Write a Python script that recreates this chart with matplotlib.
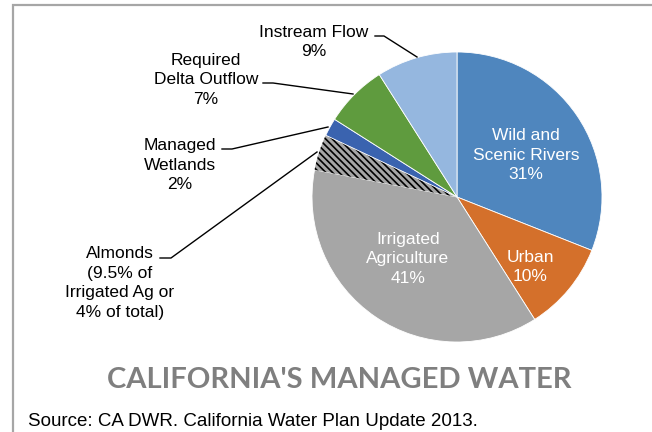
import matplotlib.pyplot as plt

W, H = 652, 432

# slices, clockwise from 12 o'clock
slice_names = ["Wild and Scenic Rivers", "Urban", "Irrigated Agriculture", "Almonds",
               "Managed Wetlands", "Required Delta Outflow", "Instream Flow"]
irrigated_total = 41
almonds_share = 4
slice_values = [31, 10, irrigated_total - almonds_share, almonds_share, 2, 7, 9]
slice_colors = ["#4F86BE", "#D4702B", "#A6A6A6", "#A6A6A6", "#3A63AF", "#5F9B3E", "#95B7DF"]

inside_labels = ["Wild and\nScenic Rivers\n31%", "Urban\n10%", "Irrigated\nAgriculture\n41%"]
outside_labels = ["Instream Flow\n9%", "Required\nDelta Outflow\n7%", "Managed\nWetlands\n2%",
                  "Almonds\n(9.5% of\nIrrigated Ag or\n4% of total)"]

title = "CALIFORNIA'S MANAGED WATER"
source = "Source: CA DWR. California Water Plan Update 2013."

plt.rcParams["font.family"] = ["Liberation Sans", "DejaVu Sans"]
plt.rcParams["hatch.linewidth"] = 1.2


def py(y):
    # picture rows go down, axes go up
    return H - y


fig = plt.figure(figsize=(W / 100, H / 100), dpi=100)
ax = fig.add_axes([0, 0, 1, 1])

wedges, _ = ax.pie(slice_values, colors=slice_colors, startangle=90, counterclock=False,
                   center=(457, py(197)), radius=145,
                   wedgeprops=dict(edgecolor="white", linewidth=0.6))
wedges[3].set_hatch("\\\\\\\\\\")
wedges[3].set_edgecolor("black")
wedges[3].set_linewidth(0)

ax.set_xlim(0, W)
ax.set_ylim(0, H)
ax.set_aspect("equal")
ax.axis("off")

# chart frame
ax.plot([12.5, 12.5, W + 5], [py(H + 5), py(5), py(5)], color="#A6A6A6", lw=1.6,
        solid_joinstyle="miter")

fs = 12.5
ls = 1.37
# labels inside the pie
ax.text(526, py(155), inside_labels[0], color="white", fontsize=fs, linespacing=ls,
        ha="center", va="center")
ax.text(530, py(267), inside_labels[1], color="white", fontsize=fs, linespacing=ls,
        ha="center", va="center")
ax.text(408, py(259), inside_labels[2], color="white", fontsize=fs, linespacing=ls,
        ha="center", va="center")

# labels outside with leader lines
ax.text(314, py(42), outside_labels[0], fontsize=fs, linespacing=ls, ha="center", va="center")
ax.plot([375, 384, 417], [py(36), py(36), py(57)], color="black", lw=1)

ax.text(206, py(80), outside_labels[1], fontsize=fs, linespacing=ls, ha="center", va="center")
ax.plot([263, 273, 353], [py(83), py(83), py(94)], color="black", lw=1)

ax.text(180, py(165), outside_labels[2], fontsize=fs, linespacing=ls, ha="center", va="center")
ax.plot([222, 232, 328], [py(149), py(149), py(127)], color="black", lw=1)

ax.text(120, py(283), outside_labels[3], fontsize=fs, linespacing=ls, ha="center", va="center")
ax.plot([160, 171, 317], [py(258), py(258), py(152)], color="black", lw=1)

ax.text(339, py(380), title, fontsize=21, fontweight="bold", color="#7F7F7F",
        family="Lato", ha="center", va="center")
ax.text(28, py(422), source, fontsize=13.5, ha="left", va="center")

fig.savefig("out.png", dpi=100)
